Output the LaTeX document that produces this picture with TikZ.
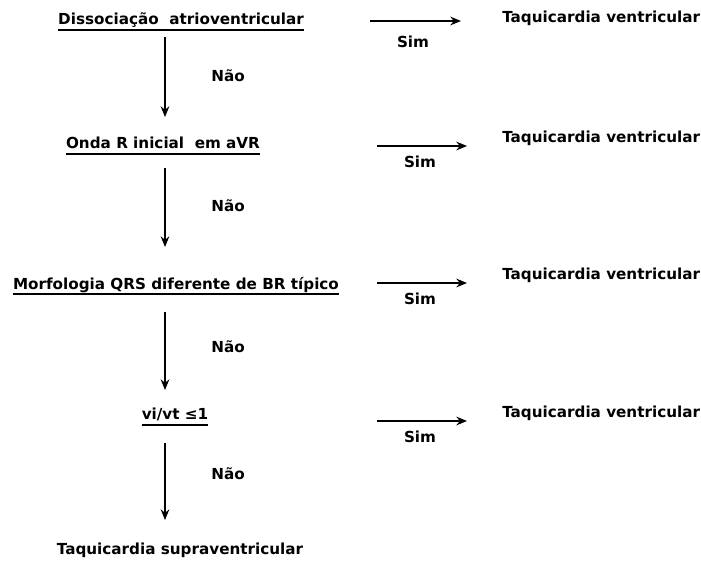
\documentclass[tikz,border=0pt]{standalone}
\usepackage{fontspec}
\setmainfont{DejaVu Sans}
\usetikzlibrary{arrows.meta}

\tikzset{
  txt/.style={inner sep=0.75pt,font=\bfseries\fontsize{11.4}{13}\selectfont},
  sub/.style={txt,text depth=3pt,inner sep=0pt},
  sublinha/.style={line width=1.3pt},
  seta/.style={line width=1.2pt,-{Stealth[length=8pt,width=6.5pt]}}
}

\begin{document}
\begin{tikzpicture}[x=0.75pt,y=0.75pt,yscale=-1,xscale=1]
\useasboundingbox (0,0) rectangle (701,563);

% Text Node
\node (q1) [sub] at (181,21) {Dissociação\ \ atrioventricular};
% Text Node
\node (q2) [sub] at (163,145) {Onda R inicial\ \ em aVR};
% Text Node
\node (q3) [sub] at (176,285) {Morfologia QRS diferente de BR típico};
% Text Node
\node (q4) [sub] at (175,416) {vi/vt ≤1};
% Text Node
\node (tsv) [txt] at (180,550) {Taquicardia supraventricular};

%Underlines
\draw [sublinha] ([yshift=0.6pt]q1.south west) -- ([yshift=0.6pt]q1.south east);
\draw [sublinha] ([yshift=0.6pt]q2.south west) -- ([yshift=0.6pt]q2.south east);
\draw [sublinha] ([yshift=0.6pt]q3.south west) -- ([yshift=0.6pt]q3.south east);
\draw [sublinha] ([yshift=0.6pt]q4.south west) -- ([yshift=0.6pt]q4.south east);

% Text Node
\node (tv1) [txt,anchor=west] at (501,18) {Taquicardia ventricular};
% Text Node
\node (tv2) [txt,anchor=west] at (501,138) {Taquicardia ventricular};
% Text Node
\node (tv3) [txt,anchor=west] at (501,275) {Taquicardia ventricular};
% Text Node
\node (tv4) [txt,anchor=west] at (501,413) {Taquicardia ventricular};

% Text Node
\node (s1) [txt] at (413,42) {Sim};
% Text Node
\node (s2) [txt] at (420,162) {Sim};
% Text Node
\node (s3) [txt] at (420,299) {Sim};
% Text Node
\node (s4) [txt] at (420,437) {Sim};

% Text Node
\node (n1) [txt] at (228,76) {Não};
% Text Node
\node (n2) [txt] at (228,206) {Não};
% Text Node
\node (n3) [txt] at (228,347) {Não};
% Text Node
\node (n4) [txt] at (228,474) {Não};

%Arrow ends
\coordinate (a1) at (370,21);  \coordinate (b1) at (461,21);
\coordinate (a2) at (377,146); \coordinate (b2) at (467,146);
\coordinate (a3) at (377,283); \coordinate (b3) at (467,283);
\coordinate (a4) at (377,421); \coordinate (b4) at (467,421);
\coordinate (c1) at (165,37);  \coordinate (d1) at (165,117);
\coordinate (c2) at (165,168); \coordinate (d2) at (165,247);
\coordinate (c3) at (165,312); \coordinate (d3) at (165,390);
\coordinate (c4) at (165,443); \coordinate (d4) at (165,520);

%Straight Lines (Sim)
\draw [seta] (a1) -- (b1);
\draw [seta] (a2) -- (b2);
\draw [seta] (a3) -- (b3);
\draw [seta] (a4) -- (b4);
%Straight Lines (Não)
\draw [seta,line width=1pt] (c1) -- (d1);
\draw [seta,line width=1pt] (c2) -- (d2);
\draw [seta,line width=1pt] (c3) -- (d3);
\draw [seta,line width=1pt] (c4) -- (d4);

\end{tikzpicture}
\end{document}
